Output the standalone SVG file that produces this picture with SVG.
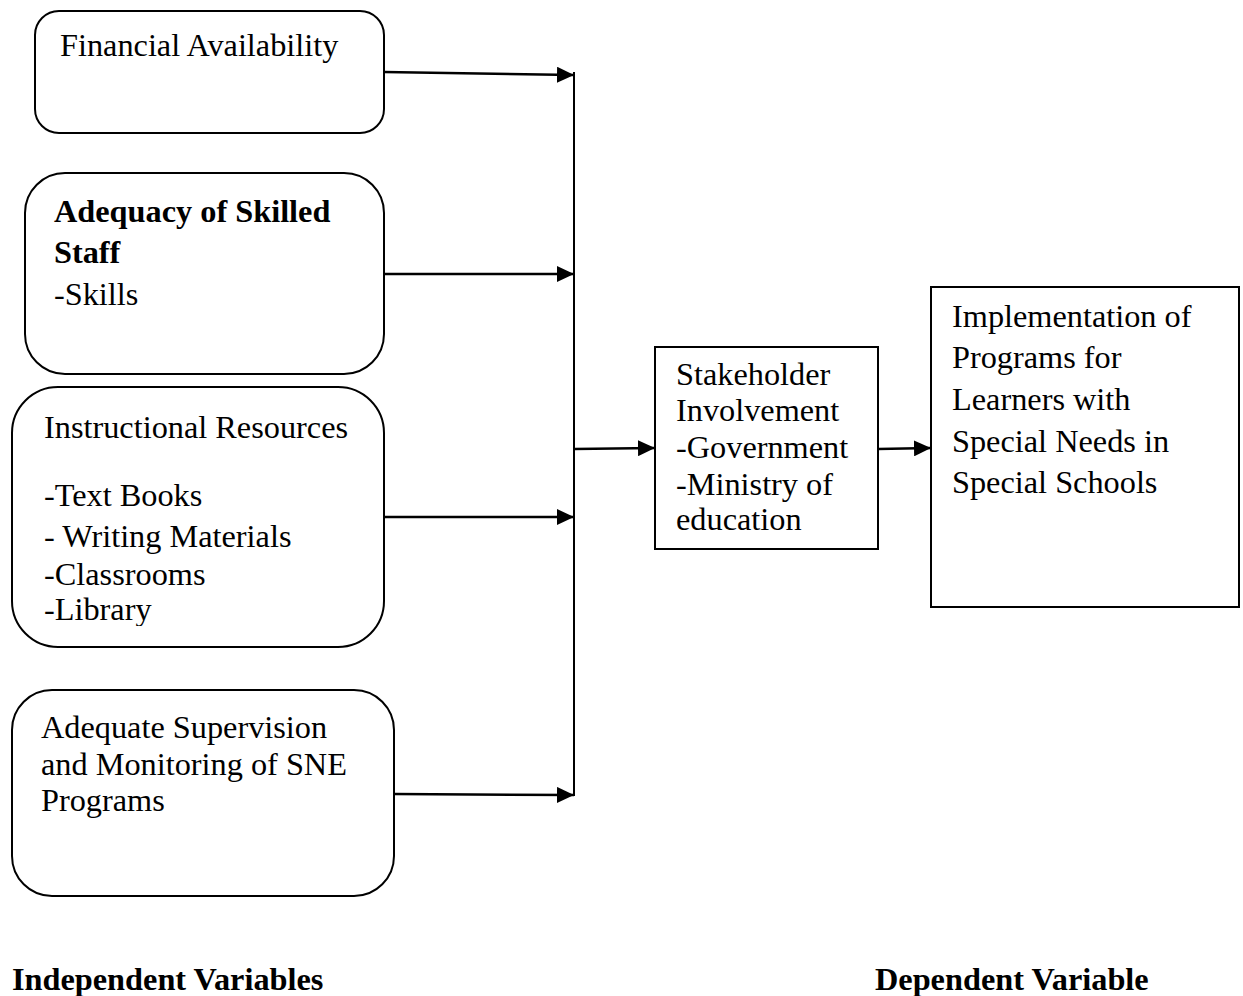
<svg xmlns="http://www.w3.org/2000/svg" width="1243" height="996" viewBox="0 0 1243 996">
<style>
.box{fill:#fff;stroke:#000;stroke-width:2}
.t{font-family:"Liberation Serif","Times New Roman",serif;font-size:32.3px;fill:#000}
.b{font-weight:bold}
.c{stroke:#000;stroke-width:2.5;fill:none}
.v{stroke:#000;stroke-width:2;fill:none}
</style>
<defs>
<marker id="ah" markerWidth="17" markerHeight="16" refX="17" refY="8" orient="auto" markerUnits="userSpaceOnUse">
<path d="M0,0 L17,8 L0,16 Z" fill="#000"/>
</marker>
<clipPath id="clip3"><rect x="0" y="380" width="400" height="246"/></clipPath>
</defs>
<rect width="1243" height="996" fill="#fff"/>

<g id="financial">
<rect class="box" x="35" y="11" width="349" height="122" rx="24" ry="24"/>
<text class="t" x="60" y="56">Financial Availability</text>
</g>

<g id="skilled-staff">
<rect class="box" x="25" y="173" width="359" height="201" rx="40" ry="40"/>
<text class="t b" x="54" y="222">Adequacy of Skilled</text>
<text class="t b" x="54" y="263">Staff</text>
<text class="t" x="54" y="305">-Skills</text>
</g>

<g id="instructional">
<rect class="box" x="12" y="387" width="372" height="260" rx="46" ry="46"/>
<g clip-path="url(#clip3)">
<text class="t" x="44" y="438">Instructional Resources</text>
<text class="t" x="44" y="506">-Text Books</text>
<text class="t" x="44" y="547">- Writing Materials</text>
<text class="t" x="44" y="585">-Classrooms</text>
<text class="t" x="44" y="620">-Library</text>
</g>
</g>

<g id="supervision">
<rect class="box" x="12" y="690" width="382" height="206" rx="40" ry="40"/>
<text class="t" x="41" y="738">Adequate Supervision</text>
<text class="t" x="41" y="775">and Monitoring of SNE</text>
<text class="t" x="41" y="811">Programs</text>
</g>

<g id="stakeholder">
<rect class="box" x="655" y="347" width="223" height="202"/>
<text class="t" x="676" y="385">Stakeholder</text>
<text class="t" x="676" y="421">Involvement</text>
<text class="t" x="676" y="458">-Government</text>
<text class="t" x="676" y="495">-Ministry of</text>
<text class="t" x="676" y="530">education</text>
</g>

<g id="implementation">
<rect class="box" x="931" y="287" width="308" height="320"/>
<text class="t" x="952" y="327">Implementation of</text>
<text class="t" x="952" y="368">Programs for</text>
<text class="t" x="952" y="410">Learners with</text>
<text class="t" x="952" y="452">Special Needs in</text>
<text class="t" x="952" y="493">Special Schools</text>
</g>

<g id="connectors">
<line class="v" x1="574" y1="72" x2="574" y2="796"/>
<line class="c" x1="384" y1="72" x2="574" y2="75" marker-end="url(#ah)"/>
<line class="c" x1="384" y1="274" x2="574" y2="274" marker-end="url(#ah)"/>
<line class="c" x1="384" y1="517" x2="574" y2="517" marker-end="url(#ah)"/>
<line class="c" x1="394" y1="794" x2="574" y2="795" marker-end="url(#ah)"/>
<line class="c" x1="574" y1="449" x2="655" y2="448" marker-end="url(#ah)"/>
<line class="c" x1="878" y1="449" x2="931" y2="448" marker-end="url(#ah)"/>
</g>

<g id="labels">
<text class="t b" x="12" y="990">Independent Variables</text>
<text class="t b" x="875" y="990">Dependent Variable</text>
</g>
</svg>
